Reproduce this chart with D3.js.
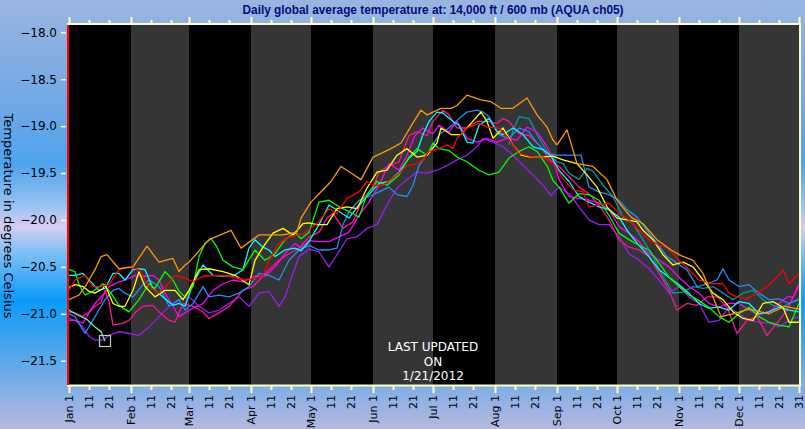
<!DOCTYPE html>
<html>
<head>
<meta charset="utf-8">
<script src="https://cdn.jsdelivr.net/npm/d3@7"></script>
<style>
body { margin: 0; overflow: hidden; }
svg { display: block; }
</style>
</head>
<body>
<div id="chartDiv"></div>
<script>
// day-of-year (leap year) vs temperature
var monthNames = ["Jan", "Feb", "Mar", "Apr", "May", "Jun", "Jul", "Aug", "Sep", "Oct", "Nov", "Dec"];
var monthStarts = [0, 31, 60, 91, 121, 152, 182, 213, 244, 274, 305, 335];
var yTicks = [-18.0, -18.5, -19.0, -19.5, -20.0, -20.5, -21.0, -21.5];

var tOrange = [[0,-20.85],[5,-20.8],[9,-20.68],[13,-20.53],[16,-20.39],[19,-20.37],[25,-20.52],[32,-20.50],[39,-20.28],[45,-20.45],[52,-20.41],[55,-20.55],[58,-20.48],[60,-20.45],[70,-20.21],[81,-20.11],[86,-20.30],[95,-20.16],[107,-20.16],[114,-20.13],[116,-19.98],[121,-19.81],[126,-19.70],[131,-19.59],[136,-19.43],[141,-19.50],[146,-19.57],[152,-19.33],[160,-19.25],[166,-19.18],[171,-19.00],[176,-18.83],[179,-18.88],[186,-18.81],[191,-18.81],[194,-18.78],[199,-18.67],[206,-18.72],[211,-18.74],[216,-18.81],[222,-18.81],[229,-18.70],[234,-18.88],[239,-19.01],[242,-19.15],[244,-19.20],[249,-19.04],[254,-19.40],[262,-19.43],[269,-19.57],[274,-19.79],[281,-19.97],[287,-20.04],[294,-20.21],[301,-20.32],[306,-20.38],[312,-20.43],[317,-20.57],[322,-20.82],[326,-21.03],[332,-21.0],[340,-20.95],[350,-21.0],[358,-20.92],[365,-20.95]];
var tRed = [[0,-20.75],[3,-20.64],[8,-20.59],[12,-20.71],[15,-20.71],[20,-20.69],[25,-20.53],[30,-20.50],[35,-20.53],[40,-20.71],[45,-20.78],[50,-20.67],[53,-20.59],[58,-20.62],[62,-20.66],[67,-20.60],[73,-20.59],[80,-20.60],[88,-20.64],[97,-20.60],[100,-20.43],[105,-20.25],[110,-20.18],[117,-20.15],[124,-20.04],[130,-19.88],[134,-19.93],[139,-19.77],[145,-19.70],[149,-19.59],[152,-19.63],[157,-19.63],[164,-19.52],[169,-19.42],[174,-19.40],[177,-19.36],[180,-19.27],[185,-19.24],[189,-19.20],[192,-19.24],[194,-19.13],[199,-19.02],[205,-18.97],[209,-19.01],[215,-19.02],[219,-19.11],[225,-19.29],[232,-19.33],[237,-19.33],[242,-19.40],[247,-19.56],[252,-19.68],[257,-19.70],[260,-19.86],[265,-19.84],[270,-19.82],[275,-19.93],[280,-20.00],[285,-20.11],[290,-20.21],[295,-20.27],[299,-20.29],[304,-20.41],[310,-20.53],[315,-20.64],[322,-20.68],[327,-20.68],[330,-20.78],[334,-20.82],[339,-20.84],[344,-20.78],[349,-20.71],[354,-20.61],[357,-20.53],[360,-20.68],[365,-20.57]];
var tYellow = [[0,-20.72],[3,-20.69],[7,-20.71],[10,-20.76],[13,-20.78],[17,-20.73],[18,-20.69],[22,-20.89],[25,-20.92],[28,-20.92],[32,-20.75],[35,-20.55],[38,-20.71],[43,-20.82],[48,-20.75],[53,-20.75],[57,-20.85],[60,-20.75],[65,-20.53],[70,-20.52],[77,-20.55],[83,-20.59],[90,-20.69],[93,-20.43],[97,-20.29],[102,-20.14],[107,-20.09],[112,-20.16],[117,-20.04],[120,-20.03],[124,-20.05],[129,-20.05],[134,-19.88],[139,-19.86],[144,-19.88],[149,-19.66],[154,-19.49],[159,-19.47],[164,-19.31],[169,-19.24],[174,-19.33],[179,-19.31],[184,-19.18],[186,-19.02],[191,-19.09],[196,-19.09],[201,-18.97],[206,-18.85],[209,-18.95],[212,-19.13],[217,-19.02],[222,-19.20],[226,-19.31],[231,-19.33],[236,-19.33],[242,-19.32],[247,-19.36],[254,-19.40],[259,-19.52],[264,-19.65],[269,-19.86],[274,-19.98],[279,-20.00],[284,-20.02],[287,-20.11],[292,-20.21],[297,-20.37],[302,-20.48],[307,-20.45],[312,-20.50],[317,-20.64],[322,-20.78],[327,-20.85],[332,-20.98],[337,-21.05],[342,-21.07],[347,-20.89],[352,-20.87],[357,-20.93],[360,-21.09],[365,-21.09]];
var tGreen = [[0,-20.53],[3,-20.55],[5,-20.69],[8,-20.80],[12,-20.76],[17,-20.68],[21,-20.78],[25,-20.91],[30,-20.98],[35,-20.85],[40,-20.68],[43,-20.73],[48,-20.55],[52,-20.64],[55,-20.76],[58,-20.82],[62,-20.71],[65,-20.39],[68,-20.25],[71,-20.20],[74,-20.29],[77,-20.43],[82,-20.50],[87,-20.53],[93,-20.32],[98,-20.43],[103,-20.36],[108,-20.21],[113,-20.13],[116,-20.20],[120,-20.13],[125,-19.81],[130,-19.79],[135,-19.86],[140,-19.91],[145,-19.97],[149,-19.73],[154,-19.59],[159,-19.63],[165,-19.52],[170,-19.33],[174,-19.24],[179,-19.31],[182,-19.18],[185,-19.24],[190,-19.26],[194,-19.33],[199,-19.38],[205,-19.47],[210,-19.52],[215,-19.49],[220,-19.34],[225,-19.27],[230,-19.22],[234,-19.27],[239,-19.42],[242,-19.58],[245,-19.65],[250,-19.82],[255,-19.72],[260,-19.73],[265,-19.79],[270,-19.95],[275,-20.14],[280,-20.21],[285,-20.27],[290,-20.32],[295,-20.46],[300,-20.61],[305,-20.71],[310,-20.80],[315,-20.86],[320,-20.93],[325,-21.03],[330,-21.09],[335,-21.00],[340,-20.93],[345,-21.03],[350,-21.09],[355,-21.12],[360,-21.14],[365,-20.89]];
var tCyan = [[0,-20.59],[3,-20.59],[7,-20.57],[10,-20.64],[15,-20.75],[18,-20.73],[22,-20.57],[25,-20.57],[28,-20.64],[32,-20.53],[35,-20.52],[38,-20.53],[42,-20.73],[47,-20.82],[52,-20.91],[55,-20.89],[58,-20.92],[62,-20.68],[67,-20.48],[72,-20.59],[77,-20.60],[82,-20.60],[87,-20.53],[90,-20.30],[93,-20.21],[97,-20.29],[100,-20.32],[103,-20.39],[108,-20.32],[113,-20.30],[116,-20.33],[120,-20.23],[125,-20.05],[130,-19.84],[135,-19.91],[140,-19.98],[145,-19.84],[150,-19.73],[155,-19.61],[160,-19.59],[165,-19.49],[170,-19.34],[174,-19.27],[177,-19.09],[180,-18.95],[184,-18.85],[187,-18.86],[192,-18.95],[195,-18.99],[199,-19.17],[202,-19.18],[205,-18.99],[210,-18.92],[214,-19.06],[217,-19.09],[222,-19.02],[227,-19.09],[232,-19.22],[237,-19.25],[241,-19.32],[245,-19.47],[250,-19.59],[255,-19.75],[260,-19.81],[265,-19.86],[270,-19.89],[275,-19.97],[280,-20.14],[285,-20.27],[290,-20.39],[295,-20.53],[300,-20.61],[305,-20.69],[310,-20.78],[315,-20.89],[320,-20.94],[325,-20.93],[330,-20.96],[335,-20.87],[340,-20.89],[345,-21.00],[350,-20.98],[355,-20.93],[360,-20.96],[365,-20.98]];
var tBlue = [[0,-21.0],[3,-21.03],[8,-21.21],[13,-21.03],[18,-20.85],[22,-20.75],[25,-20.73],[28,-20.78],[32,-20.82],[37,-20.69],[40,-20.64],[45,-20.71],[50,-20.92],[55,-20.85],[58,-20.96],[62,-20.89],[67,-20.71],[70,-20.82],[75,-20.80],[80,-20.82],[85,-20.78],[90,-20.71],[95,-20.57],[100,-20.59],[105,-20.64],[110,-20.43],[115,-20.32],[120,-20.27],[125,-20.32],[130,-20.32],[134,-20.30],[137,-20.05],[140,-19.91],[145,-19.79],[150,-19.75],[155,-19.70],[160,-19.65],[164,-19.73],[169,-19.75],[172,-19.63],[175,-19.42],[180,-19.27],[185,-19.09],[190,-19.02],[195,-18.92],[199,-18.85],[204,-18.83],[207,-18.85],[210,-18.90],[215,-19.09],[220,-19.13],[225,-19.02],[230,-19.06],[234,-19.18],[239,-19.29],[244,-19.31],[250,-19.31],[256,-19.31],[260,-19.65],[265,-19.70],[270,-19.73],[275,-19.79],[279,-19.89],[284,-19.97],[289,-20.11],[294,-20.25],[299,-20.39],[304,-20.46],[309,-20.53],[314,-20.71],[319,-20.68],[324,-20.64],[327,-20.52],[330,-20.64],[335,-20.71],[340,-20.69],[345,-20.78],[350,-20.85],[355,-20.84],[360,-20.89],[365,-20.85]];
var tTeal = [[220,-19.20],[222,-19.05],[225,-18.90],[230,-18.92],[234,-19.09],[239,-19.27],[244,-19.38],[247,-19.40],[250,-19.50],[255,-19.57],[259,-19.45],[262,-19.48],[267,-19.63],[272,-19.75],[277,-19.97],[282,-20.04],[287,-20.21],[292,-20.39],[297,-20.61],[302,-20.78],[307,-20.77],[312,-20.71],[317,-20.73],[322,-20.71],[327,-20.78],[332,-20.85],[337,-20.78],[342,-20.75],[347,-20.85],[352,-20.91],[357,-20.93],[360,-20.89],[365,-20.84]];
var tMagenta = [[0,-21.07],[3,-21.07],[7,-21.10],[10,-20.99],[13,-20.89],[17,-20.80],[20,-20.71],[25,-20.66],[28,-20.64],[33,-20.59],[38,-20.60],[42,-20.59],[45,-20.64],[48,-20.78],[52,-20.92],[55,-21.03],[58,-20.99],[62,-20.94],[67,-20.89],[72,-20.75],[77,-20.68],[82,-20.64],[87,-20.66],[93,-20.60],[98,-20.60],[103,-20.50],[108,-20.36],[113,-20.25],[116,-20.30],[120,-20.22],[125,-20.23],[130,-20.23],[135,-20.18],[140,-20.13],[145,-19.95],[150,-19.81],[155,-19.63],[160,-19.40],[165,-19.47],[169,-19.31],[173,-19.10],[177,-19.02],[182,-19.08],[185,-18.99],[190,-19.06],[194,-18.95],[199,-19.13],[204,-19.17],[209,-19.13],[214,-19.17],[219,-19.13],[224,-19.15],[229,-19.01],[234,-19.06],[239,-19.22],[242,-19.35],[245,-19.57],[250,-19.75],[255,-19.77],[260,-19.79],[265,-19.82],[270,-19.89],[275,-20.07],[280,-20.14],[285,-20.23],[290,-20.36],[295,-20.43],[300,-20.50],[305,-20.61],[310,-20.71],[315,-20.78],[320,-20.89],[325,-20.93],[330,-20.89],[335,-20.89],[340,-20.96],[345,-21.01],[350,-20.98],[355,-20.89],[359,-20.82],[362,-20.82],[365,-20.71]];
var tPink = [[0,-20.98],[3,-20.99],[7,-21.03],[10,-20.98],[13,-20.92],[16,-20.88],[18,-20.75],[20,-20.87],[22,-21.12],[27,-21.10],[30,-21.07],[33,-20.99],[37,-20.92],[42,-20.91],[45,-20.98],[50,-21.07],[53,-21.09],[57,-20.89],[62,-20.92],[67,-20.98],[70,-21.05],[75,-20.99],[80,-20.92],[83,-20.85],[87,-20.75],[92,-20.71],[97,-20.60],[100,-20.53],[105,-20.43],[110,-20.36],[115,-20.30],[120,-20.18],[125,-20.13],[129,-19.98],[132,-19.93],[137,-20.09],[142,-20.02],[147,-19.77],[152,-19.66],[155,-19.49],[160,-19.42],[165,-19.38],[170,-19.10],[174,-19.06],[179,-19.10],[182,-18.95],[187,-18.83],[190,-18.88],[194,-19.02],[199,-19.02],[204,-18.95],[209,-18.95],[214,-18.97],[217,-18.92],[220,-18.95],[225,-19.08],[230,-19.10],[235,-19.20],[240,-19.35],[245,-19.43],[250,-19.54],[255,-19.65],[260,-19.72],[265,-19.84],[270,-20.00],[275,-20.21],[280,-20.29],[285,-20.32],[290,-20.39],[295,-20.57],[300,-20.75],[304,-20.96],[309,-20.89],[314,-20.91],[319,-20.82],[324,-20.82],[329,-20.93],[334,-21.21],[339,-21.07],[344,-21.03],[349,-21.23],[354,-21.10],[359,-20.96],[362,-20.82],[365,-20.68]];
var tPurple = [[0,-21.05],[3,-21.07],[7,-21.14],[10,-21.24],[13,-21.28],[17,-21.28],[20,-21.23],[25,-21.19],[30,-21.21],[35,-21.23],[40,-21.14],[45,-21.03],[50,-20.92],[55,-20.85],[60,-20.82],[65,-20.92],[70,-20.99],[75,-20.96],[80,-20.89],[85,-20.82],[90,-20.92],[95,-20.78],[100,-20.76],[105,-20.92],[108,-20.82],[112,-20.57],[115,-20.39],[120,-20.31],[125,-20.34],[130,-20.50],[134,-20.37],[139,-20.20],[144,-20.18],[149,-20.09],[154,-20.05],[159,-19.84],[164,-19.66],[169,-19.57],[174,-19.49],[179,-19.50],[184,-19.47],[189,-19.42],[194,-19.36],[199,-19.31],[204,-19.22],[207,-19.13],[212,-19.17],[217,-19.22],[222,-19.31],[227,-19.42],[232,-19.52],[237,-19.63],[241,-19.74],[245,-19.65],[250,-19.72],[255,-19.86],[260,-20.00],[265,-20.05],[270,-20.05],[275,-20.18],[280,-20.36],[285,-20.43],[290,-20.52],[295,-20.64],[300,-20.78],[305,-20.71],[310,-20.82],[315,-20.89],[320,-21.09],[325,-21.07],[330,-20.93],[335,-21.00],[340,-21.07],[345,-21.09],[350,-21.10],[355,-21.14],[360,-21.07],[365,-21.03]];
var t2012 = [[0,-20.96],[4,-21.01],[9,-21.06],[13,-21.14],[16,-21.19],[18,-21.29]];

var seriesList = [
    { values: tTeal, color: "#009c9c" },
    { values: tPurple, color: "#9b1cf5" },
    { values: tPink, color: "#ff1493" },
    { values: tMagenta, color: "#ff00ff" },
    { values: tBlue, color: "#1e90ff" },
    { values: tCyan, color: "#00ffff" },
    { values: tGreen, color: "#00ff00" },
    { values: tYellow, color: "#ffff00" },
    { values: tRed, color: "#ff0000" },
    { values: tOrange, color: "#ff9900" },
    { values: t2012, color: "#66eeb4" }
];

var width = 805, height = 429;
var plotLeft = 69, plotRight = 800, plotTop = 24, plotBottom = 385;
var cream = "#fffcc4";

var svg = d3.select("#chartDiv")
    .append("svg")
    .attr("width", width)
    .attr("height", height);

// background gradient like the original applet
var defs = svg.append("defs");
var grad = defs.append("linearGradient")
    .attr("id", "bg")
    .attr("x1", 0).attr("y1", 0).attr("x2", 0).attr("y2", 1);
[[0, "#9ab5df"], [0.25, "#6fa8e6"], [0.38, "#4ea3ee"], [0.47, "#8fc0f2"], [0.53, "#d6cdf2"],
 [0.58, "#88c2f4"], [0.70, "#0b9bfb"], [0.80, "#45a4ee"], [1, "#b7b8de"]].forEach(function (s) {
    grad.append("stop").attr("offset", s[0]).attr("stop-color", s[1]);
});
svg.append("rect")
    .attr("width", width)
    .attr("height", height)
    .attr("fill", "url(#bg)");

defs.append("clipPath").attr("id", "plotClip")
    .append("rect")
    .attr("x", plotLeft).attr("y", plotTop)
    .attr("width", plotRight - plotLeft).attr("height", plotBottom - plotTop);

var x = d3.scaleLinear().domain([0, 365]).range([plotLeft, plotLeft + 730]);
var y = d3.scaleLinear().domain([-18.0, -21.5]).range([32.3, 360.7]);

// black plot with grey bands for every other month
svg.append("rect")
    .attr("x", plotLeft).attr("y", plotTop)
    .attr("width", plotRight - plotLeft).attr("height", plotBottom - plotTop)
    .attr("fill", "#000");

var bandEnds = monthStarts.slice(1).concat([366]);
svg.append("g")
    .selectAll("rect")
    .data(monthStarts.filter(function (d, i) { return i % 2 == 1; }))
    .enter().append("rect")
    .attr("x", function (d) { return x(d); })
    .attr("y", plotTop)
    .attr("width", function (d) {
        var end = bandEnds[monthStarts.indexOf(d)];
        return Math.min(x(end), plotRight) - x(d);
    })
    .attr("height", plotBottom - plotTop)
    .attr("fill", "#353535");

// the year lines
var line = d3.line()
    .x(function (d) { return x(d[0]); })
    .y(function (d) { return y(d[1]); });

svg.append("g")
    .attr("clip-path", "url(#plotClip)")
    .selectAll("path")
    .data(seriesList)
    .enter().append("path")
    .attr("d", function (d) { return line(d.values); })
    .attr("fill", "none")
    .attr("stroke", function (d) { return d.color; })
    .attr("stroke-width", 1.3)
    .attr("stroke-linejoin", "round");

// marker on the latest day
var last = t2012[t2012.length - 1];
svg.append("rect")
    .attr("x", x(last[0]) - 5.5)
    .attr("y", y(last[1]) - 5.5)
    .attr("width", 11)
    .attr("height", 11)
    .attr("fill", "none")
    .attr("stroke", "#c8c8c8")
    .attr("stroke-width", 1.2);

// frame
svg.append("line").attr("x1", 67).attr("x2", 801).attr("y1", plotTop).attr("y2", plotTop)
    .attr("stroke", cream).attr("stroke-width", 2);
svg.append("line").attr("x1", 67).attr("x2", 801).attr("y1", plotBottom + 0.5).attr("y2", plotBottom + 0.5)
    .attr("stroke", cream).attr("stroke-width", 2);
svg.append("line").attr("x1", plotRight).attr("x2", plotRight).attr("y1", plotTop).attr("y2", plotBottom + 1)
    .attr("stroke", cream).attr("stroke-width", 2);
svg.append("line").attr("x1", 68).attr("x2", 68).attr("y1", plotTop + 1).attr("y2", plotBottom)
    .attr("stroke", "#ff0000").attr("stroke-width", 2);

// x ticks: month starts, 11th, 21st and Dec 31
var xTicks = [];
monthStarts.forEach(function (m, i) {
    xTicks.push({ day: m, label: monthNames[i] + " 1", major: true });
    xTicks.push({ day: m + 10, label: "11", major: false });
    xTicks.push({ day: m + 20, label: "21", major: false });
});
xTicks.push({ day: 365, label: "31", major: true });

var tickG = svg.append("g");
tickG.selectAll("line.top")
    .data(xTicks)
    .enter().append("line")
    .attr("class", "top")
    .attr("x1", function (d) { return Math.round(x(d.day)) + 0.5; })
    .attr("x2", function (d) { return Math.round(x(d.day)) + 0.5; })
    .attr("y1", plotTop)
    .attr("y2", function (d) { return d.major ? 17 : 20; })
    .attr("stroke", cream).attr("stroke-width", 2);
tickG.selectAll("line.bottom")
    .data(xTicks)
    .enter().append("line")
    .attr("class", "bottom")
    .attr("x1", function (d) { return Math.round(x(d.day)) + 0.5; })
    .attr("x2", function (d) { return Math.round(x(d.day)) + 0.5; })
    .attr("y1", plotBottom)
    .attr("y2", function (d) { return d.major ? 393 : 390; })
    .attr("stroke", cream).attr("stroke-width", 2);
tickG.selectAll("text")
    .data(xTicks)
    .enter().append("text")
    .attr("transform", function (d) { return "translate(" + x(d.day) + ",395) rotate(-90)"; })
    .attr("text-anchor", "end")
    .attr("dy", "0.35em")
    .style("font-family", "DejaVu Sans")
    .style("font-size", "11px")
    .attr("fill", "#000")
    .text(function (d) { return d.label; });

// y axis
var yAxis = svg.append("g")
    .attr("transform", "translate(66,0)")
    .call(d3.axisLeft(y).tickValues(yTicks).tickFormat(d3.format(".1f")).tickSize(5).tickPadding(4));
yAxis.select(".domain").remove();
yAxis.selectAll("line").attr("stroke", cream).attr("stroke-width", 1.5);
yAxis.selectAll("text")
    .style("font-family", "DejaVu Sans")
    .style("font-size", "12px")
    .attr("fill", "#000");

// axis title
svg.append("text")
    .attr("transform", "translate(4,216) rotate(90)")
    .attr("text-anchor", "middle")
    .style("font-family", "DejaVu Sans")
    .style("font-size", "13px")
    .attr("fill", "#000")
    .text("Temperature in degrees Celsius");

// chart title
svg.append("text")
    .attr("x", 433)
    .attr("y", 13.5)
    .attr("text-anchor", "middle")
    .attr("textLength", 381)
    .attr("lengthAdjust", "spacingAndGlyphs")
    .style("font-family", "Liberation Sans")
    .style("font-weight", "bold")
    .style("font-size", "12px")
    .attr("fill", "#0a0a80")
    .text("Daily global average temperature at: 14,000 ft / 600 mb (AQUA ch05)");

// update note
var noteLines = ["LAST UPDATED", "ON", "1/21/2012"];
svg.append("g")
    .selectAll("text")
    .data(noteLines)
    .enter().append("text")
    .attr("x", 433)
    .attr("y", function (d, i) { return [350.7, 366, 380][i]; })
    .attr("text-anchor", "middle")
    .style("font-family", "DejaVu Sans")
    .style("font-size", "12px")
    .attr("fill", "#fff")
    .text(function (d) { return d; });
</script>
</body>
</html>
